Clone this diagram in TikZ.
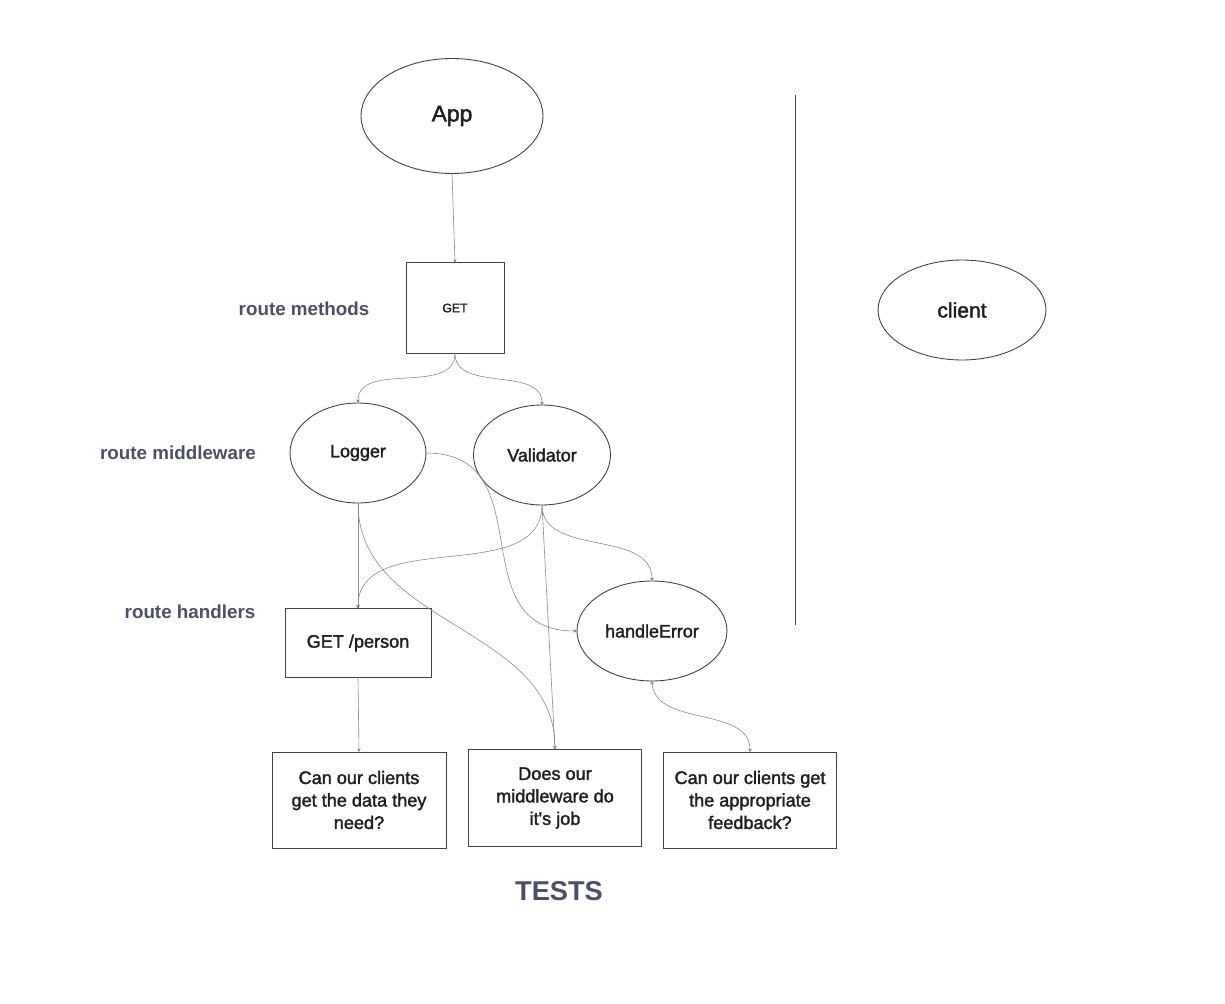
\documentclass[tikz,border=0pt]{standalone}
\usepackage{fontspec}
\setmainfont{Liberation Sans}
\newfontfamily\medfont[FakeBold=1.8]{Liberation Sans}
\usepackage{tikz}
\usetikzlibrary{shapes.geometric,arrows.meta}

\definecolor{edgegray}{HTML}{3D4052}
\definecolor{linegray}{HTML}{8A8C96}
\definecolor{labelgray}{HTML}{4B5068}
\definecolor{textdark}{HTML}{1E1E24}

\tikzset{
  oval/.style={ellipse, draw=edgegray, line width=0.5pt, inner sep=0pt, outer sep=0pt,
    text=textdark, font=\medfont\fontsize{10.2}{13}\selectfont},
  box/.style={rectangle, draw=edgegray, line width=0.5pt, inner sep=0pt, outer sep=0pt,
    text=textdark, align=center, font=\medfont\fontsize{10.3}{12.8}\selectfont},
  layer/.style={text=labelgray, font=\bfseries\fontsize{10.7}{12}\selectfont},
  conn/.style={draw=linegray, line width=0.35pt, -{Stealth[length=2pt,width=2pt]}}
}

\begin{document}
\begin{tikzpicture}[x=0.02cm, y=-0.02cm]
  \useasboundingbox (0,0) rectangle (1225,1004);

  \node[oval, minimum width=3.64cm, minimum height=2.3cm, font=\medfont\fontsize{13}{15}\selectfont] (app) at (452,116) {App};
  \node[box, minimum width=1.96cm, minimum height=1.82cm, font=\medfont\fontsize{7}{8}\selectfont] (get) at (455,308) {GET};
  \node[oval, minimum width=3.36cm, minimum height=2cm, font=\medfont\fontsize{12}{13}\selectfont] (client) at (962,310) {client};

  \node[oval, minimum width=2.72cm, minimum height=2cm] (logger) at (358,453) {Logger};
  \node[oval, minimum width=2.74cm, minimum height=2cm] (validator) at (542,455) {Validator};
  \node[oval, minimum width=3cm, minimum height=2cm] (handle) at (652,631) {handleError};
  \node[box, minimum width=2.92cm, minimum height=1.38cm] (person) at (358,643) {GET /person};

  \node[box, minimum width=3.48cm, minimum height=1.92cm] (testdata) at (359,800) {Can our clients\\get the data they\\need?};
  \node[box, minimum width=3.46cm, minimum height=1.94cm] (testmw) at (555,798) {Does our\\middleware do\\it's job};
  \node[box, minimum width=3.46cm, minimum height=1.92cm] (testfb) at (750,800) {Can our clients get\\the appropriate\\feedback?};

  \node[layer] (methods) at (304,309) {route methods};
  \node[layer] (middleware) at (178,453) {route middleware};
  \node[layer] (handlers) at (190,612) {route handlers};
  \node[text=labelgray, font=\bfseries\fontsize{15.5}{18}\selectfont] (tests) at (559,891) {TESTS};

  \draw[edgegray, line width=0.45pt] (795,95) -- (795,625);

  \path[conn]
  (app.south) edge (get.north)
  (get.south) edge[out=-90, in=90] (logger.north)
  (get.south) edge[out=-90, in=90] (validator.north)
  (logger.east) edge[out=0, in=180, looseness=1.3] (handle.west)
  (logger.south) edge (person.north)
  (logger.south) edge[out=-90, in=90] (testmw.north)
  (validator.south) edge[out=-90, in=90] (person.north)
  (validator.south) edge (testmw.north)
  (validator.south) edge[out=-90, in=90] (handle.north)
  (person.south) edge (testdata.north)
  (handle.south) edge[out=-90, in=90] (testfb.north)
  ;
\end{tikzpicture}
\end{document}
